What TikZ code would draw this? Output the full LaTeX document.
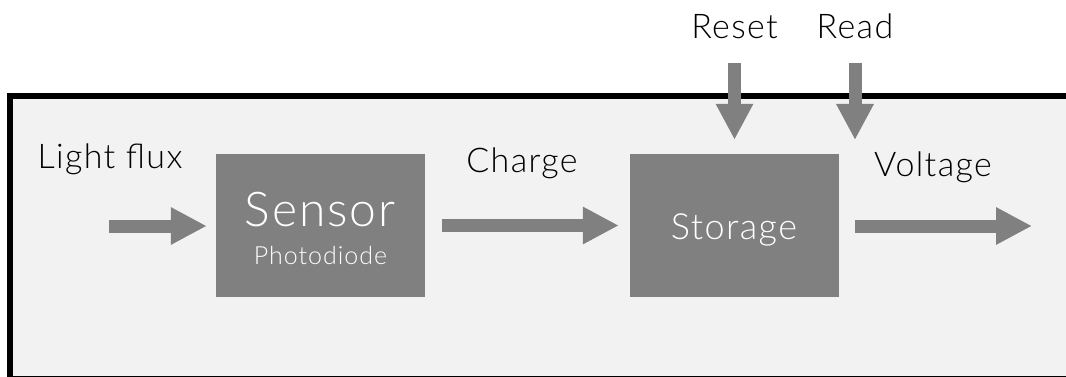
\documentclass[tikz,border=0pt]{standalone}
\usepackage{fontspec}
\setmainfont{Lato Light}[LetterSpace=4]
\usetikzlibrary{arrows.meta}
\definecolor{panel}{HTML}{F2F2F2}
\definecolor{blockgray}{HTML}{808080}
\tikzset{
  block/.style={fill=blockgray, draw=none, minimum width=209pt, minimum height=143pt,
    inner sep=0pt},
  intext/.style={anchor=base, inner sep=0pt, text=white},
  bigarrow/.style={draw=blockgray, line width=13pt,
    -{Triangle[width=35pt, length=36pt]}, blockgray},
  label/.style={anchor=base, inner sep=0pt, font=\fontsize{34}{40}\selectfont},
}
\begin{document}
\begin{tikzpicture}[x=1pt, y=-1pt]
  \useasboundingbox (0,0) rectangle (1066,377);
  \clip (0,0) rectangle (1066,377);
  % enclosing panel
  \draw[line width=6pt, fill=panel] (10,96) rectangle (1090,378.8);

  % blocks
  \node[block] (sensor) at (320.5,225.5) {};
  \node[block] (storage) at (734.5,225.5) {};
  \node[intext, font=\fontsize{48}{52}\selectfont] (sensorname) at (320,226) {Sensor};
  \node[intext, font=\fontsize{25}{28}\selectfont] (sensortype) at (320.5,264) {Photodiode};
  \node[intext, font=\fontsize{36}{40}\selectfont] (storagename) at (734,239) {Storage};

  % free ends of the signal arrows
  \coordinate (lightin) at (109,226);
  \coordinate (voltout) at (1032,226);
  \coordinate (resetin) at (734.5,63);
  \coordinate (readin) at (855,63);
  \coordinate (readend) at (855,140);

  % signal arrows
  \draw[bigarrow, shorten >=9pt] (lightin) -- (lightin -| sensor.west);
  \draw[bigarrow, shorten <=17pt, shorten >=11pt] (sensor.east) -- (storage.west);
  \draw[bigarrow, shorten <=16pt] (storage.east |- voltout) -- (voltout);
  \draw[bigarrow, shorten >=14pt] (resetin) -- (storage.north);
  \draw[bigarrow] (readin) -- (readend);

  % labels
  \node[label] (lflux) at (110,168) {Light flux};
  \node[label] (lcharge) at (522,173) {Charge};
  \node[label] (lvolt) at (933,177) {Voltage};
  \node[label] (lreset) at (734.5,39) {Reset};
  \node[label] (lread) at (855,39) {Read};
\end{tikzpicture}
\end{document}
